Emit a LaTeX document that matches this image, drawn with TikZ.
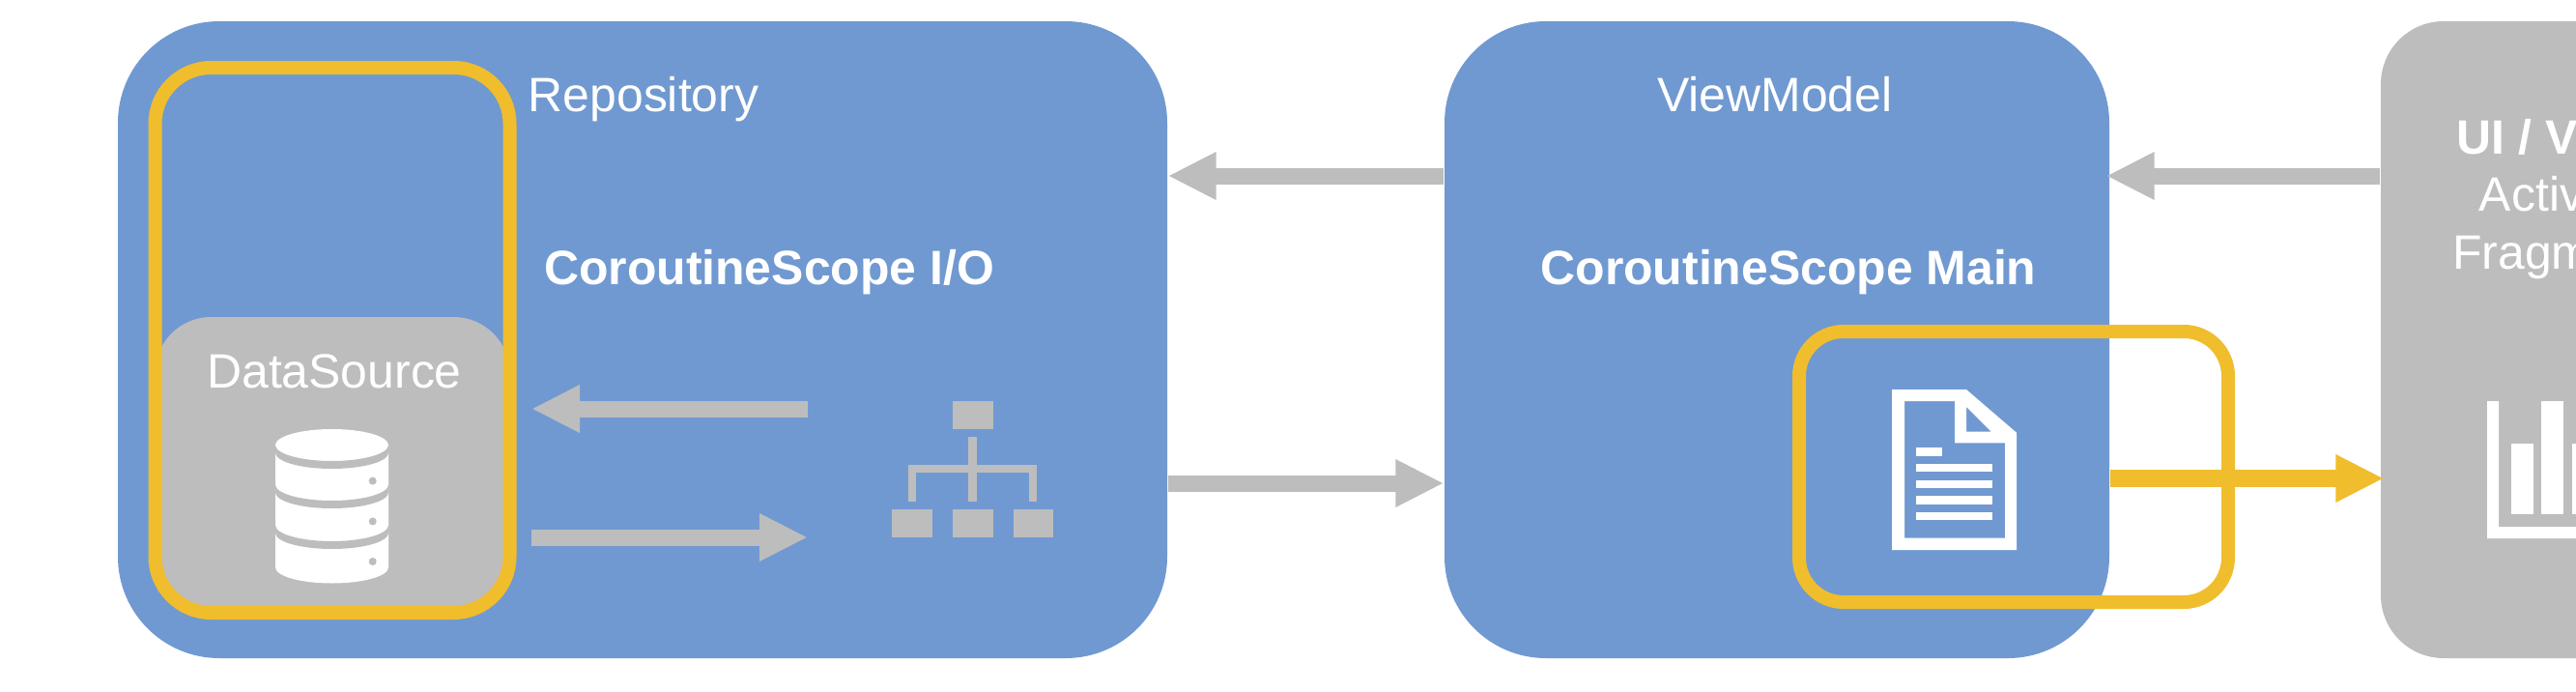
\documentclass[tikz,border=0pt]{standalone}
\usepackage{fontspec}
\setmainfont{Liberation Sans}
\usepackage{tikz}
\usetikzlibrary{positioning,arrows.meta}
\definecolor{layerblue}{RGB}{112,153,209}
\definecolor{layergray}{RGB}{189,189,189}
\definecolor{scopeyellow}{RGB}{240,189,45}

\begin{document}
\begin{tikzpicture}[font=\fontsize{14.2}{16.9}\selectfont, every node/.style={align=center},
    layerbox/.style={fill=layerblue, rounded corners=1.05cm, minimum height=6.59cm, inner sep=0pt},
    scopeframe/.style={draw=scopeyellow, line width=0.14cm, inner sep=0pt},
    whitetext/.style={text=white, inner sep=0pt, anchor=base},
    flow/.style={draw=layergray, line width=0.17cm, -{Triangle[length=0.5cm,width=0.46cm,fill=layergray]}},
    hotflow/.style={draw=scopeyellow, line width=0.175cm, -{Triangle[length=0.5cm,width=0.46cm,fill=scopeyellow]}}]
  \useasboundingbox (0,0) rectangle (26.66,7.15);
  \clip (0,0) rectangle (26.66,7.15);

  \node[layerbox, minimum width=10.86cm] (repository) at (6.65,3.635) {};
  \node[layerbox, minimum width=6.88cm] (viewmodel) at (18.39,3.635) {};
  \node[layerbox, fill=layergray, rounded corners=0.65cm, minimum width=3.68cm] (uiview) at (26.48,3.635) {};
  \node[fill=layergray, rounded corners=0.58cm, minimum width=3.67cm, minimum height=3.06cm, inner sep=0pt] (datasource) at (3.44,2.34) {};
  \node[scopeframe, rounded corners=0.58cm, minimum width=3.67cm, minimum height=5.64cm] (ioframe) at (3.44,3.63) {};

  \node[whitetext] (repositorylabel) at (6.66,5.99) {Repository};
  \node[whitetext] (viewmodellabel) at (18.37,5.99) {ViewModel};
  \node[whitetext] (iolabel) at (7.96,4.21) {\textbf{CoroutineScope I/O}};
  \node[whitetext] (mainlabel) at (18.51,4.21) {\textbf{CoroutineScope Main}};
  \node[whitetext] (datasourcelabel) at (3.46,3.14) {DataSource};
  \node[text=white, inner sep=0pt] (uilabel) at (26.45,5.09) {\textbf{UI / View}\\Activity\\Fragment};

  \coordinate (readstart) at (8.36,2.92);
  \coordinate (readend) at (5.50,2.92);
  \coordinate (writestart) at (5.50,1.59);
  \coordinate (writeend) at (8.36,1.59);
  \draw[flow] ([yshift=1.695cm]viewmodel.west) -- ([yshift=1.695cm]repository.east);
  \draw[flow] ([yshift=1.695cm]uiview.west) -- ([xshift=-0.04cm,yshift=1.695cm]viewmodel.east);
  \draw[flow] ([yshift=-1.485cm]repository.east) -- ([yshift=-1.485cm]viewmodel.west);
  \draw[flow] (readstart) -- (readend);
  \draw[flow] (writestart) -- (writeend);

  \fill[white] (2.85,2.545) arc[start angle=180,end angle=0,x radius=0.585,y radius=0.165]
    -- (4.02,1.28) arc[start angle=0,end angle=-180,x radius=0.585,y radius=0.165] -- cycle;
  \foreach \bandy in {2.545,2.135,1.715}
    \fill[layergray] (2.85,\bandy) arc[start angle=180,end angle=360,x radius=0.585,y radius=0.165]
      -- (4.02,\bandy-0.08) arc[start angle=360,end angle=180,x radius=0.585,y radius=0.165] -- cycle;
  \fill[layergray] (3.857,2.174) circle (0.04);
  \fill[layergray] (3.857,1.755) circle (0.04);
  \fill[layergray] (3.857,1.34) circle (0.04);

  \fill[layergray] (9.86,2.71) rectangle (10.28,3.00);
  \fill[layergray] (9.23,1.59) rectangle (9.65,1.88);
  \fill[layergray] (9.86,1.59) rectangle (10.28,1.88);
  \fill[layergray] (10.485,1.59) rectangle (10.90,1.88);
  \fill[layergray] (10.02,1.96) rectangle (10.11,2.63);
  \fill[layergray] (9.40,2.26) rectangle (10.734,2.34);
  \fill[layergray] (9.40,1.96) rectangle (9.48,2.34);
  \fill[layergray] (10.65,1.96) rectangle (10.734,2.34);

  \fill[white, even odd rule] (19.58,3.12) -- (20.35,3.12) -- (20.87,2.673) -- (20.87,1.46) -- (19.58,1.46) -- cycle
    (19.71,3.00) -- (20.23,3.00) -- (20.23,2.567) -- (20.75,2.567) -- (20.75,1.583) -- (19.71,1.583) -- cycle
    (20.35,2.94) -- (20.607,2.683) -- (20.35,2.683) -- cycle;
  \fill[white] (19.83,2.433) rectangle (20.10,2.52);
  \fill[white] (19.83,2.267) rectangle (20.623,2.35);
  \fill[white] (19.83,2.10) rectangle (20.623,2.183);
  \fill[white] (19.83,1.933) rectangle (20.623,2.017);
  \fill[white] (19.83,1.767) rectangle (20.623,1.85);

  \fill[white] (25.74,3.00) -- (25.86,3.00) -- (25.86,1.70) -- (27,1.70) -- (27,1.58) -- (25.74,1.58) -- cycle;
  \fill[white] (25.99,1.83) rectangle (26.22,2.56);
  \fill[white] (26.30,1.83) rectangle (26.53,3.00);
  \fill[white] (26.62,1.83) rectangle (26.85,2.56);

  \node[scopeframe, rounded corners=0.46cm, minimum width=4.44cm, minimum height=2.80cm] (mainframe) at (20.84,2.32) {};
  \draw[hotflow] ([yshift=-1.435cm]viewmodel.east) -- ([xshift=0.04cm,yshift=-1.435cm]uiview.west);
\end{tikzpicture}
\end{document}
